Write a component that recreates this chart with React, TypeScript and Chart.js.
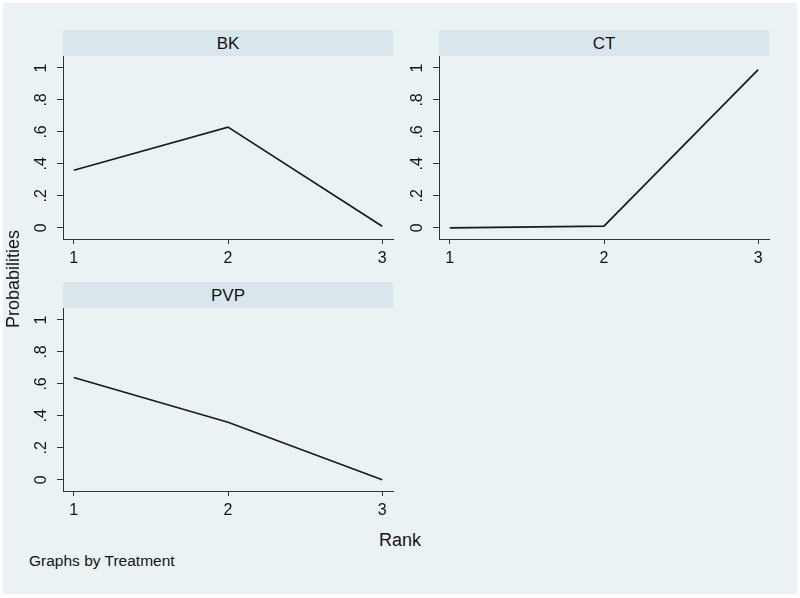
import React, { useEffect, useRef } from "react";
import { Chart, registerables } from "chart.js";

Chart.register(...registerables);

const ranks = [1, 2, 3];
const treatments = ["BK", "CT", "PVP"];
const bkProb = [0.36, 0.63, 0.01];
const ctProb = [0.0, 0.01, 0.99];
const pvpProb = [0.64, 0.36, 0.0];
const yTicks = [0, 0.2, 0.4, 0.6, 0.8, 1];
const yTickLabels = ["0", ".2", ".4", ".6", ".8", "1"];
const xTicks = [1, 2, 3];
const xTickLabels = ["1", "2", "3"];

const FONT = '"Liberation Sans", Arial, Helvetica, sans-serif';
const TEXT = "#141414";

type PanelProps = {
  title: string;
  values: number[];
  left: number;
  top: number;
};

const CANVAS_W = 380;
const CANVAS_H = 214;
const Y_AXIS_W = 43;
const X_AXIS_H = 31;
const PAD_RIGHT = 7;

function Panel({ title, values, left, top }: PanelProps) {
  const ref = useRef<HTMLCanvasElement | null>(null);
  useEffect(() => {
    if (!ref.current) return;
    const yLabelPlugin = {
      id: "yRotLabels",
      afterDraw(chart: any) {
        const { ctx, chartArea, scales } = chart;
        const y = scales.y;
        ctx.save();
        ctx.font = `16px ${FONT}`;
        ctx.fillStyle = TEXT;
        ctx.textAlign = "center";
        ctx.textBaseline = "middle";
        yTicks.forEach((v, i) => {
          const py = y.getPixelForValue(v);
          ctx.save();
          ctx.translate(chartArea.left - 21, py);
          ctx.rotate(-Math.PI / 2);
          ctx.fillText(yTickLabels[i], 0, 0);
          ctx.restore();
        });
        ctx.restore();
      },
    };
    const chart = new Chart(ref.current, {
      type: "line",
      data: {
        datasets: [
          {
            data: ranks.map((r, i) => ({ x: r, y: values[i] })),
            borderColor: "#1a1a1a",
            borderWidth: 1.7,
            pointRadius: 0,
            tension: 0,
            fill: false,
          },
        ],
      },
      options: {
        responsive: false,
        animation: false,
        layout: { padding: { left: 0, right: PAD_RIGHT, top: 0, bottom: 0 } },
        plugins: { legend: { display: false }, tooltip: { enabled: false }, title: { display: false } },
        scales: {
          x: {
            type: "linear",
            min: 0.93,
            max: 3.07,
            afterBuildTicks: (s: any) => {
              s.ticks = xTicks.map((v) => ({ value: v }));
            },
            afterFit: (s: any) => {
              s.height = X_AXIS_H;
            },
            ticks: {
              callback: (v: any) => {
                const i = xTicks.indexOf(Number(v));
                return i >= 0 ? xTickLabels[i] : "";
              },
              font: { family: FONT, size: 16 },
              color: TEXT,
              padding: 5,
              maxRotation: 0,
            },
            grid: {
              drawOnChartArea: false,
              drawTicks: true,
              tickLength: 5,
              tickColor: "#333",
              tickWidth: 1,
            },
            border: { display: true, color: "#333", width: 1 },
          },
          y: {
            type: "linear",
            min: -0.07,
            max: 1.075,
            afterBuildTicks: (s: any) => {
              s.ticks = yTicks.map((v) => ({ value: v }));
            },
            afterFit: (s: any) => {
              s.width = Y_AXIS_W;
            },
            ticks: { display: false },
            grid: {
              drawOnChartArea: true,
              color: "#e9f1f3",
              lineWidth: 1,
              drawTicks: true,
              tickLength: 6,
              tickColor: "#333",
              tickWidth: 1,
            },
            border: { display: true, color: "#333", width: 1 },
          },
        },
      },
      plugins: [yLabelPlugin],
    });
    return () => chart.destroy();
  }, [values]);

  const areaLeft = left + Y_AXIS_W;
  const areaW = CANVAS_W - Y_AXIS_W - PAD_RIGHT;
  return (
    <>
      <div
        style={{
          position: "absolute",
          left: areaLeft,
          top: top - 26,
          width: areaW,
          height: 26,
          background: "#d9e6eb",
          fontFamily: FONT,
          fontSize: 17,
          lineHeight: "26px",
          textAlign: "center",
          color: TEXT,
          paddingTop: 1,
          boxSizing: "border-box",
        }}
      >
        {title}
      </div>
      <canvas
        ref={ref}
        width={CANVAS_W}
        height={CANVAS_H}
        style={{ position: "absolute", left, top, width: CANVAS_W, height: CANVAS_H }}
      />
    </>
  );
}

export default function App() {
  return (
    <div
      style={{
        position: "absolute",
        left: 0,
        top: 0,
        width: 800,
        height: 598,
        background: "#ffffff",
        overflow: "hidden",
      }}
    >
      <div
        style={{
          position: "absolute",
          left: 3,
          top: 3,
          width: 794,
          height: 591,
          background: "#eaf2f3",
        }}
      />
      <Panel title={treatments[0]} values={bkProb} left={20} top={56} />
      <Panel title={treatments[1]} values={ctProb} left={396} top={56} />
      <Panel title={treatments[2]} values={pvpProb} left={20} top={308} />
      <div
        style={{
          position: "absolute",
          left: 13,
          top: 279,
          transform: "translate(-50%, -50%) rotate(-90deg)",
          fontFamily: FONT,
          fontSize: 18,
          lineHeight: "18px",
          whiteSpace: "nowrap",
          color: TEXT,
        }}
      >
        Probabilities
      </div>
      <div
        style={{
          position: "absolute",
          left: 360,
          top: 531,
          width: 80,
          textAlign: "center",
          fontFamily: FONT,
          fontSize: 18,
          lineHeight: "18px",
          color: TEXT,
        }}
      >
        Rank
      </div>
      <div
        style={{
          position: "absolute",
          left: 29,
          top: 553,
          fontFamily: FONT,
          fontSize: 15.5,
          lineHeight: "15px",
          whiteSpace: "nowrap",
          color: TEXT,
        }}
      >
        Graphs by Treatment
      </div>
    </div>
  );
}
